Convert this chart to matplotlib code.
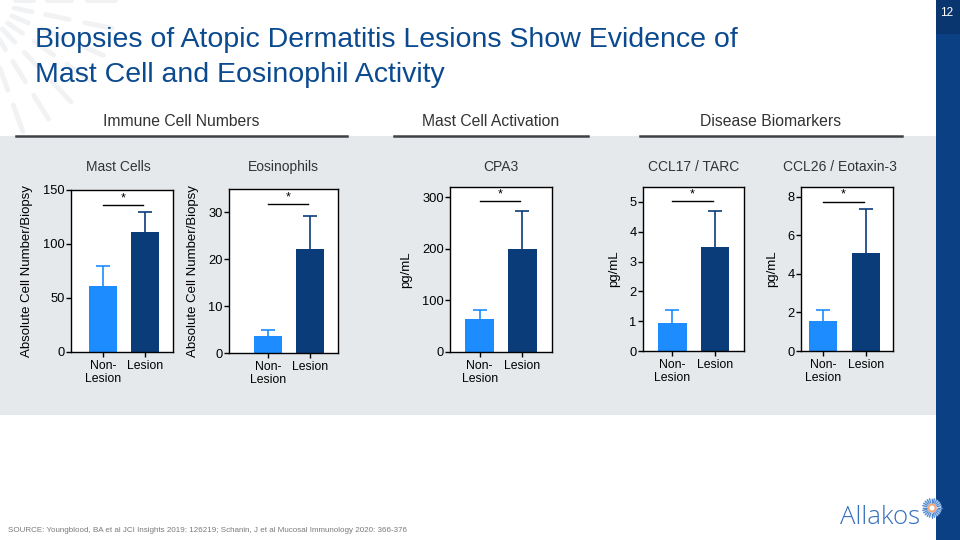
import numpy as np
import matplotlib
matplotlib.use("Agg")
import matplotlib.pyplot as plt
from matplotlib.patches import Rectangle, Circle

plt.rcParams["font.family"] = ["Liberation Sans", "DejaVu Sans"]

# data
panel_titles = ["Mast Cells", "Eosinophils", "CPA3", "CCL17 / TARC", "CCL26 / Eotaxin-3"]
y_labels = ["Absolute Cell Number/Biopsy", "Absolute Cell Number/Biopsy",
            "pg/mL", "pg/mL", "pg/mL"]
groups = ["Non-\nLesion", "Lesion"]
means = [[61, 111], [3.7, 22.2], [64, 199], [0.95, 3.5], [1.56, 5.09]]
upper_err = [[80, 130], [5.0, 29.2], [82, 273], [1.39, 4.7], [2.13, 7.38]]
sig_level = [136, 31.7, 292, 5.03, 7.74]
y_max = [150, 35, 320, 5.5, 8.5]
y_ticks = [[0, 50, 100, 150], [0, 10, 20, 30], [0, 100, 200, 300],
           [0, 1, 2, 3, 4, 5], [0, 2, 4, 6, 8]]

sections = ["Immune Cell Numbers", "Mast Cell Activation", "Disease Biomarkers"]
title_lines = ["Biopsies of Atopic Dermatitis Lesions Show Evidence of",
               "Mast Cell and Eosinophil Activity"]
source = ("SOURCE: Youngblood, BA et al JCI Insights 2019: 126219; "
          "Schanin, J et al Mucosal Immunology 2020: 366-376")

# layout (pixels)
W, H = 960, 540
boxes = [(71, 190, 173, 352), (229, 189, 338, 353), (450, 187, 552, 352),
         (643, 187, 744, 351), (801, 187, 893, 351)]
xlims = [(-0.76, 1.667), (-0.93, 1.67), (-0.69, 1.69), (-0.69, 1.68), (-0.51, 1.63)]
sec_lines = [(16, 347), (394, 588), (640, 902)]

light_blue = "#1c8cff"
dark_blue = "#0a3c79"
title_blue = "#0b4a8f"

fig = plt.figure(figsize=(9.6, 5.4), dpi=100)

bg = fig.add_axes([0, 0, 1, 1], zorder=0)
bg.set_xlim(0, W)
bg.set_ylim(H, 0)
bg.axis("off")

# grey band and right bar
bg.add_patch(Rectangle((0, 136), 936, 279, color="#e6e9ec", lw=0))
bg.add_patch(Rectangle((936, 0), 24, H, color="#0b4184", lw=0))
bg.add_patch(Rectangle((936, 0), 24, 34, color="#0a3670", lw=0))
bg.text(947, 13, "12", color="white", fontsize=8.5, ha="center", va="center")

# sunburst decoration top-left
for ang in np.linspace(0, 105, 10):
    a = np.radians(ang)
    for r0, r1 in [(40, 58), (72, 96), (112, 140)]:
        bg.plot([-25 + r0 * np.cos(a), -25 + r1 * np.cos(a)],
                [0 + r0 * np.sin(a), 0 + r1 * np.sin(a)],
                color="#f1f2f4", lw=3.5, solid_capstyle="round", zorder=0)

for k, line in enumerate(title_lines):
    bg.text(35, 47 + 35 * k, line, color=title_blue, fontsize=20.5,
            va="baseline", ha="left")

for name, (x0, x1) in zip(sections, sec_lines):
    bg.text((x0 + x1) / 2, 122, name, fontsize=11.3, color="#333333",
            ha="center", va="center")
    bg.plot([x0, x1], [136, 136], color="#3d4247", lw=1.8, zorder=2)

bg.text(8, 530, source, fontsize=5.8, color="#7a7a7a", va="center")

# logo
bg.text(840, 517, "Allakos", fontsize=18.5, color="#3570bd", va="center",
        ha="left", fontweight="light", family=["Open Sans", "DejaVu Sans"])
ang = np.linspace(0, 2 * np.pi, 24, endpoint=False)
bg.add_patch(Circle((932, 508), 9.5, color="#c9dbf2", lw=0, zorder=3))
for a in ang:
    bg.plot([932 + 5.5 * np.cos(a), 932 + 9.5 * np.cos(a)],
            [508 + 5.5 * np.sin(a), 508 + 9.5 * np.sin(a)],
            color="#4d86cf", lw=0.8, zorder=4)
bg.add_patch(Circle((932, 508), 4.5, color="#f0a779", lw=0, zorder=5))
bg.add_patch(Circle((932, 508), 2.5, color="white", lw=0, zorder=6))

for i, (x0, y0, x1, y1) in enumerate(boxes):
    ax = fig.add_axes([x0 / W, 1 - y1 / H, (x1 - x0) / W, (y1 - y0) / H], zorder=2)
    ax.set_facecolor("white")
    pos = np.arange(2)
    cols = [light_blue, dark_blue]
    ax.bar(pos, means[i], width=0.67, color=cols, zorder=2)
    for j in range(2):
        eb = ax.errorbar(pos[j], means[i][j],
                         yerr=[[0], [upper_err[i][j] - means[i][j]]],
                         color=cols[j], capsize=5, elinewidth=1.2, capthick=1.2,
                         zorder=1)
        eb[1][0].set_visible(False)
    ax.plot([0.0, 0.95], [sig_level[i], sig_level[i]], color="black", lw=1)
    ax.text(0.475, sig_level[i] + y_max[i] * 0.005, "*", ha="center",
            va="bottom", fontsize=9)
    ax.set_xlim(*xlims[i])
    ax.set_ylim(0, y_max[i])
    ax.set_xticks(pos)
    ax.set_xticklabels(groups, fontsize=8.8, linespacing=1.1)
    ax.set_yticks(y_ticks[i])
    ax.tick_params(axis="y", labelsize=9.3, pad=1)
    ax.tick_params(axis="x", pad=2)
    ax.tick_params(length=3.5, width=1)
    for s in ax.spines.values():
        s.set_linewidth(1)
    ax.set_ylabel(y_labels[i], fontsize=9.5, labelpad=7)
    cx = fig.transFigure.inverted().transform(ax.transAxes.transform((0.5, 1)))[0] * W
    bg.text(cx + (-4 if i == 0 else (-7 if i == 4 else 0)), 167, panel_titles[i],
            fontsize=10, color="#333333", ha="center", va="center")

fig.savefig("out.png", dpi=100)
